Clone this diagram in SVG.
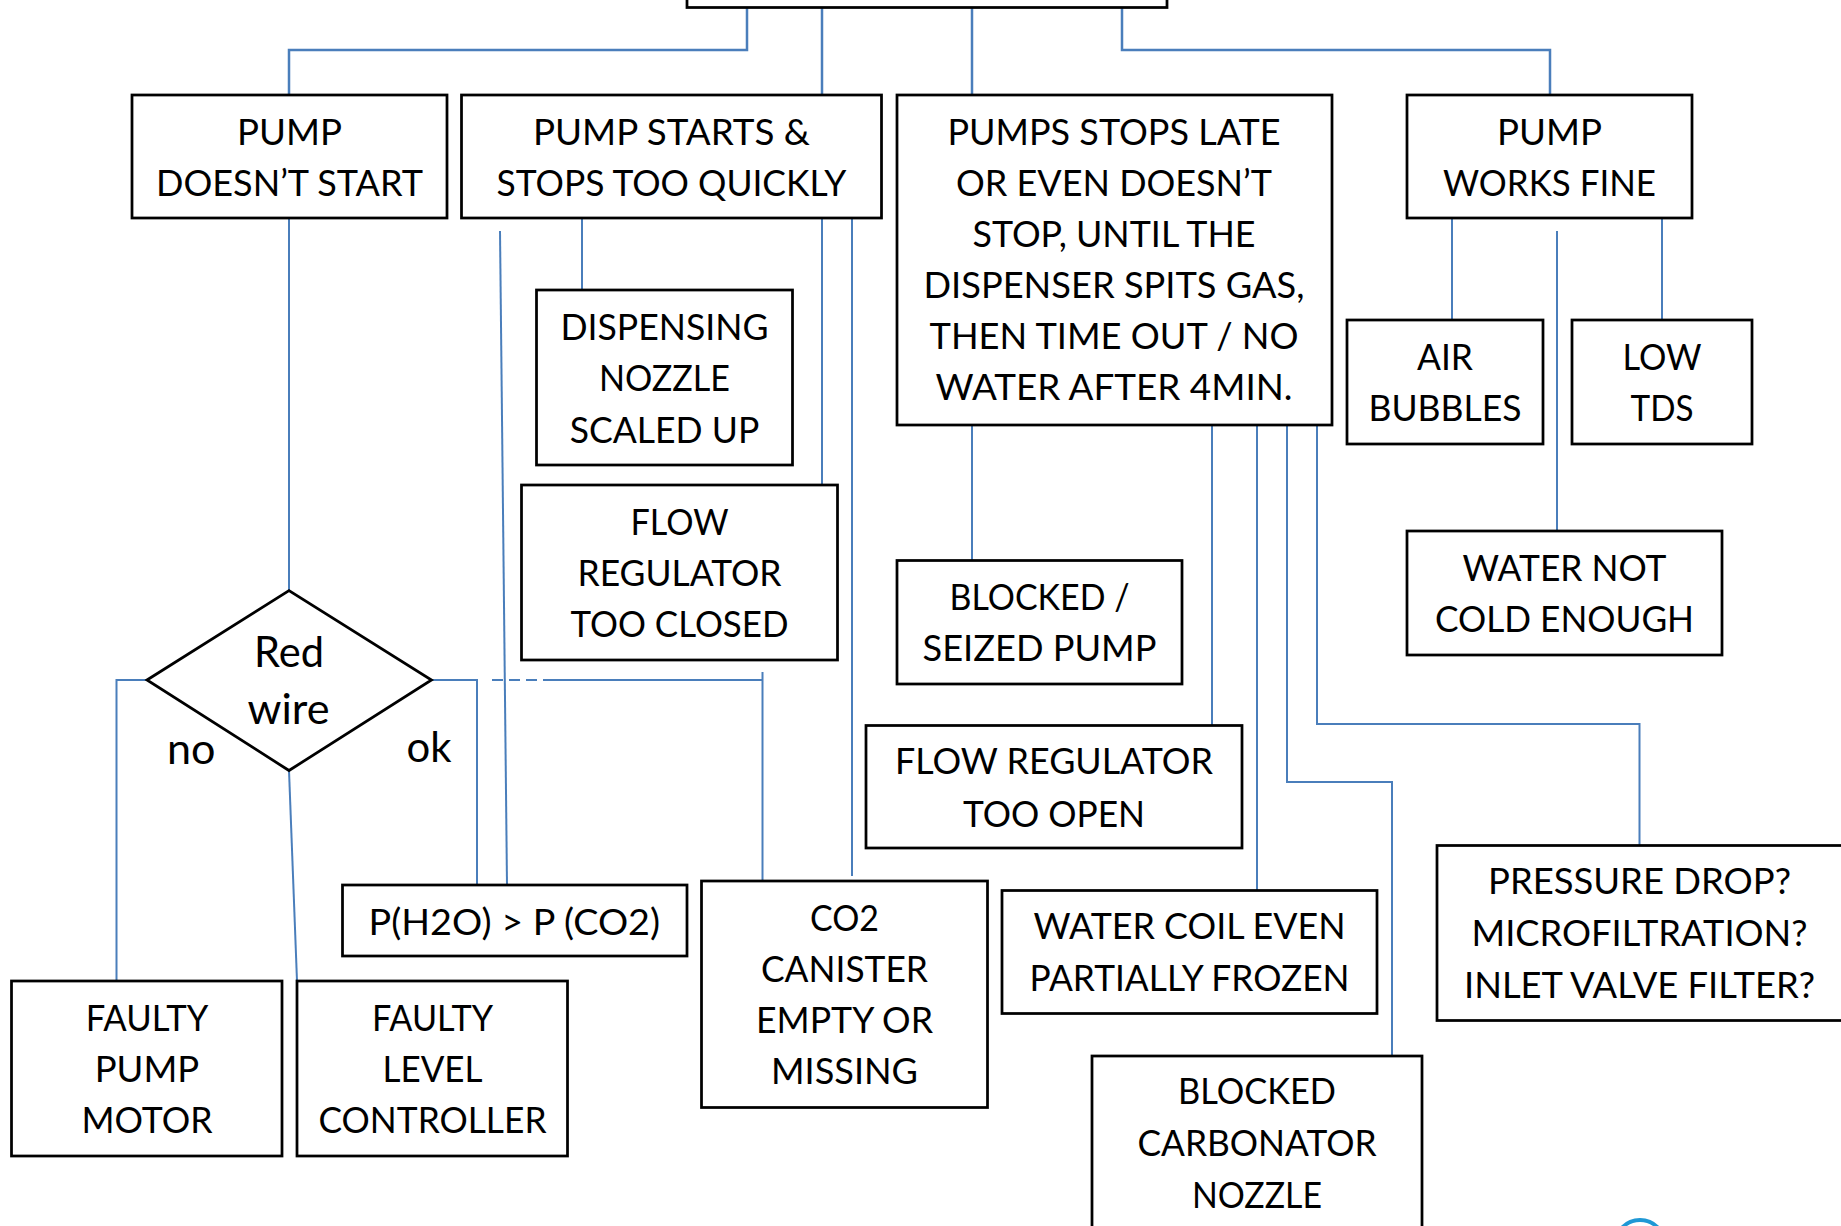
<svg xmlns="http://www.w3.org/2000/svg" width="1841" height="1226" viewBox="0 0 1841 1226">
<style>
.box{fill:#fff;stroke:#000;stroke-width:2.75}
.c{fill:none;stroke:#4a7ebb;stroke-width:2}
.ct{fill:none;stroke:#4a7ebb;stroke-width:2.5}
.t{font-family:Lato,"Liberation Sans",sans-serif;font-size:36px;text-anchor:middle;fill:#000}
.d{font-family:Lato,"Liberation Sans",sans-serif;font-size:42px;text-anchor:middle;fill:#000}
</style>
<rect width="1841" height="1226" fill="#fff"/>
<g id="connectors">
<polyline class="ct" points="747,5 747,50 289,50 289,95"/>
<polyline class="ct" points="822,5 822,95"/>
<polyline class="ct" points="972,5 972,95"/>
<polyline class="ct" points="1122,5 1122,50 1550,50 1550,95"/>
<polyline class="c" points="289,218 289,590.5"/>
<polyline class="c" points="147,680 116.5,680 116.5,981"/>
<polyline class="c" points="289,770.5 297,981"/>
<polyline class="c" points="431.5,680 477,680 477,890"/>
<polyline class="c" points="492,680 552,680" stroke-dasharray="11,6"/>
<polyline class="c" points="549,680 762.5,680"/>
<polyline class="c" points="762.5,672 762.5,881"/>
<polyline class="c" points="500,231 507,885"/>
<polyline class="c" points="582,218 582,290"/>
<polyline class="c" points="822,218 822,485"/>
<polyline class="c" points="852,218 852,876"/>
<polyline class="c" points="972,425 972,560.5"/>
<polyline class="c" points="1212,425 1212,725.5"/>
<polyline class="c" points="1257,425 1257,890.5"/>
<polyline class="c" points="1287,425 1287,782 1392,782 1392,1056"/>
<polyline class="c" points="1317,425 1317,724 1639.5,724 1639.5,845.5"/>
<polyline class="c" points="1452,218 1452,320"/>
<polyline class="c" points="1662,218 1662,320"/>
<polyline class="c" points="1557,231 1557,531"/>
</g>
<g id="top"><rect class="box" x="687" y="-40" width="480" height="47.5"/></g>
<g id="n1"><rect class="box" x="132" y="95" width="315" height="123"/>
<text class="t" x="289.5" y="145" textLength="105" lengthAdjust="spacingAndGlyphs">PUMP</text>
<text class="t" x="289.5" y="196" textLength="267" lengthAdjust="spacingAndGlyphs">DOESN’T START</text></g>
<g id="n2"><rect class="box" x="461.5" y="95" width="420" height="123"/>
<text class="t" x="671.5" y="145" textLength="277" lengthAdjust="spacingAndGlyphs">PUMP STARTS &amp;</text>
<text class="t" x="671.5" y="196" textLength="350" lengthAdjust="spacingAndGlyphs">STOPS TOO QUICKLY</text></g>
<g id="n3"><rect class="box" x="897" y="95" width="435" height="330"/>
<text class="t" x="1114" y="145" textLength="333" lengthAdjust="spacingAndGlyphs">PUMPS STOPS LATE</text>
<text class="t" x="1114" y="196" textLength="316" lengthAdjust="spacingAndGlyphs">OR EVEN DOESN’T</text>
<text class="t" x="1114" y="247" textLength="283" lengthAdjust="spacingAndGlyphs">STOP, UNTIL THE</text>
<text class="t" x="1114" y="298" textLength="381" lengthAdjust="spacingAndGlyphs">DISPENSER SPITS GAS,</text>
<text class="t" x="1114" y="349" textLength="369" lengthAdjust="spacingAndGlyphs">THEN TIME OUT / NO</text>
<text class="t" x="1114" y="400" textLength="357" lengthAdjust="spacingAndGlyphs">WATER AFTER 4MIN.</text></g>
<g id="n4"><rect class="box" x="1407" y="95" width="285" height="123"/>
<text class="t" x="1549.5" y="145" textLength="105" lengthAdjust="spacingAndGlyphs">PUMP</text>
<text class="t" x="1549.5" y="196" textLength="213" lengthAdjust="spacingAndGlyphs">WORKS FINE</text></g>
<g id="n5"><rect class="box" x="536.5" y="290" width="256" height="175"/>
<text class="t" x="664.5" y="340" textLength="208" lengthAdjust="spacingAndGlyphs">DISPENSING</text>
<text class="t" x="664.5" y="391" textLength="131" lengthAdjust="spacingAndGlyphs">NOZZLE</text>
<text class="t" x="664.5" y="442.5" textLength="189.5" lengthAdjust="spacingAndGlyphs">SCALED UP</text></g>
<g id="n6"><rect class="box" x="521.5" y="485" width="316" height="175"/>
<text class="t" x="679.5" y="534.5" textLength="98" lengthAdjust="spacingAndGlyphs">FLOW</text>
<text class="t" x="679.5" y="586" textLength="204" lengthAdjust="spacingAndGlyphs">REGULATOR</text>
<text class="t" x="679.5" y="637" textLength="218" lengthAdjust="spacingAndGlyphs">TOO CLOSED</text></g>
<g id="n7"><rect class="box" x="1347" y="320" width="196" height="124"/>
<text class="t" x="1445" y="369.5" textLength="56" lengthAdjust="spacingAndGlyphs">AIR</text>
<text class="t" x="1445" y="420.5" textLength="153" lengthAdjust="spacingAndGlyphs">BUBBLES</text></g>
<g id="n8"><rect class="box" x="1572" y="320" width="180" height="124"/>
<text class="t" x="1662" y="369.5" textLength="79" lengthAdjust="spacingAndGlyphs">LOW</text>
<text class="t" x="1662" y="420.5" textLength="63" lengthAdjust="spacingAndGlyphs">TDS</text></g>
<g id="n9"><rect class="box" x="1407" y="531" width="315" height="124"/>
<text class="t" x="1564.5" y="581" textLength="204" lengthAdjust="spacingAndGlyphs">WATER NOT</text>
<text class="t" x="1564.5" y="632" textLength="259" lengthAdjust="spacingAndGlyphs">COLD ENOUGH</text></g>
<g id="n10"><rect class="box" x="897" y="560.5" width="285" height="123.5"/>
<text class="t" x="1039.5" y="609.5" textLength="180" lengthAdjust="spacingAndGlyphs">BLOCKED /</text>
<text class="t" x="1039.5" y="661" textLength="234" lengthAdjust="spacingAndGlyphs">SEIZED PUMP</text></g>
<g id="n11"><rect class="box" x="866" y="725.5" width="376" height="122.5"/>
<text class="t" x="1054" y="774" textLength="318" lengthAdjust="spacingAndGlyphs">FLOW REGULATOR</text>
<text class="t" x="1054" y="826.5" textLength="182" lengthAdjust="spacingAndGlyphs">TOO OPEN</text></g>
<g id="n12"><polygon class="box" points="147,680 289,590.5 431.5,680 289,770.5"/>
<text class="d" x="289" y="667" textLength="70" lengthAdjust="spacingAndGlyphs">Red</text>
<text class="d" x="288.5" y="724" textLength="82" lengthAdjust="spacingAndGlyphs">wire</text>
<text class="d" x="191.3" y="764" textLength="48.5" lengthAdjust="spacingAndGlyphs">no</text>
<text class="d" x="429" y="762" textLength="45" lengthAdjust="spacingAndGlyphs">ok</text></g>
<g id="n13"><rect class="box" x="342.5" y="885" width="344.5" height="71"/>
<text class="t" x="514.3" y="935" textLength="291.5" lengthAdjust="spacingAndGlyphs">P(H2O) &gt; P (CO2)</text></g>
<g id="n14"><rect class="box" x="701.5" y="881" width="286" height="226.5"/>
<text class="t" x="844.5" y="931" textLength="69" lengthAdjust="spacingAndGlyphs">CO2</text>
<text class="t" x="844.5" y="982" textLength="167" lengthAdjust="spacingAndGlyphs">CANISTER</text>
<text class="t" x="844.5" y="1033" textLength="177" lengthAdjust="spacingAndGlyphs">EMPTY OR</text>
<text class="t" x="844.5" y="1084" textLength="147" lengthAdjust="spacingAndGlyphs">MISSING</text></g>
<g id="n15"><rect class="box" x="1002" y="890.5" width="375" height="123"/>
<text class="t" x="1189.5" y="938.5" textLength="312" lengthAdjust="spacingAndGlyphs">WATER COIL EVEN</text>
<text class="t" x="1189.5" y="990.5" textLength="320" lengthAdjust="spacingAndGlyphs">PARTIALLY FROZEN</text></g>
<g id="n16"><rect class="box" x="1437" y="845.5" width="420" height="175"/>
<text class="t" x="1639.5" y="894" textLength="303" lengthAdjust="spacingAndGlyphs">PRESSURE DROP?</text>
<text class="t" x="1639.5" y="946" textLength="336" lengthAdjust="spacingAndGlyphs">MICROFILTRATION?</text>
<text class="t" x="1639.5" y="997.5" textLength="351" lengthAdjust="spacingAndGlyphs">INLET VALVE FILTER?</text></g>
<g id="n17"><rect class="box" x="11.5" y="981" width="270.5" height="175"/>
<text class="t" x="147" y="1031" textLength="122.5" lengthAdjust="spacingAndGlyphs">FAULTY</text>
<text class="t" x="147" y="1082" textLength="104.6" lengthAdjust="spacingAndGlyphs">PUMP</text>
<text class="t" x="147" y="1133" textLength="131" lengthAdjust="spacingAndGlyphs">MOTOR</text></g>
<g id="n18"><rect class="box" x="297" y="981" width="270.5" height="175"/>
<text class="t" x="432.5" y="1031" textLength="121" lengthAdjust="spacingAndGlyphs">FAULTY</text>
<text class="t" x="432.5" y="1082" textLength="100" lengthAdjust="spacingAndGlyphs">LEVEL</text>
<text class="t" x="432.5" y="1133" textLength="228" lengthAdjust="spacingAndGlyphs">CONTROLLER</text></g>
<g id="n19"><rect class="box" x="1092" y="1056" width="330" height="220"/>
<text class="t" x="1257" y="1104" textLength="158" lengthAdjust="spacingAndGlyphs">BLOCKED</text>
<text class="t" x="1257" y="1156" textLength="239" lengthAdjust="spacingAndGlyphs">CARBONATOR</text>
<text class="t" x="1257" y="1207.5" textLength="130" lengthAdjust="spacingAndGlyphs">NOZZLE</text></g>
<circle cx="1640" cy="1245" r="25" fill="none" stroke="#1f98d5" stroke-width="4"/>
</svg>
